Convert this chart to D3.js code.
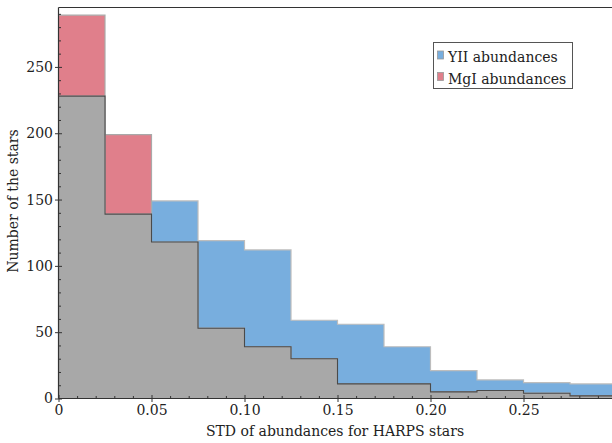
<!DOCTYPE html>
<html><head><meta charset="utf-8">
<script src="https://cdn.jsdelivr.net/npm/d3@7"></script>
<style>
body{margin:0;background:#fff}
svg{display:block}
text{font-family:"DejaVu Serif",serif;fill:#222}
</style>
</head><body><svg id="c" width="612" height="443"></svg>
<script>
const binEdges = [0,0.025,0.05,0.075,0.10,0.125,0.15,0.175,0.20,0.225,0.25,0.275,0.30];
const yiiCounts = [228,139,149,119,112,59,56,39,21,14,12,11];
const mgiCounts = [289,199,118,53,39,30,11,11,5,6,4,2];
const xTicks = [0,0.05,0.10,0.15,0.20,0.25];
const xTickLabels = ["0","0.05","0.10","0.15","0.20","0.25"];
const xMinor = [0.01,0.02,0.03,0.04,0.06,0.07,0.08,0.09,0.11,0.12,0.13,0.14,0.16,0.17,0.18,0.19,0.21,0.22,0.23,0.24,0.26,0.27,0.28,0.29];
const yTicks = [0,50,100,150,200,250];
const yMinor = [10,20,30,40,60,70,80,90,110,120,130,140,160,170,180,190,210,220,230,240,260,270,280,290];
const seriesNames = ["YII abundances","MgI abundances"];
const xLabel = "STD of abundances for HARPS stars";
const yLabel = "Number of the stars";

const W=612,H=443;
const L=58.5,T=7.5,B=398.5,R=616.5;
const svg=d3.select("#c");
const x=d3.scaleLinear().domain([0,0.3]).range([L,R]);
const y=d3.scaleLinear().domain([0,294.8]).range([B,T]);

const blue="#78aede", red="#e07f8b", gray="#a8a8a8";
const overlap = yiiCounts.map((v,i)=>Math.min(v,mgiCounts[i]));

function pts(c){
  const p=[[binEdges[0],0]];
  c.forEach((v,i)=>p.push([binEdges[i],v]));
  p.push([binEdges[binEdges.length-1],c[c.length-1]]);
  p.push([binEdges[binEdges.length-1],0]);
  return p;
}
const area=d3.area().x(d=>x(d[0])).y0(y(0)).y1(d=>y(d[1])).curve(d3.curveStepAfter);
const line=d3.line().x(d=>x(d[0])).y(d=>y(d[1])).curve(d3.curveStepAfter);

svg.append("defs").append("clipPath").attr("id","clip").append("rect")
  .attr("x",L).attr("y",T).attr("width",W-L).attr("height",B-T);
const g=svg.append("g").attr("clip-path","url(#clip)");

g.append("path").attr("d",area(pts(yiiCounts))).attr("fill",blue);
g.append("path").attr("d",area(pts(mgiCounts))).attr("fill",red);
g.append("path").attr("d",area(pts(overlap))).attr("fill",gray);
g.append("path").attr("d",line(pts(yiiCounts))).attr("fill","none").attr("stroke","#bdbdbd").attr("stroke-width",1.2);
g.append("path").attr("d",line(pts(mgiCounts))).attr("fill","none").attr("stroke","#a9a9a9").attr("stroke-width",1.2);
g.append("path").attr("d",line(pts(overlap))).attr("fill","none").attr("stroke","#4a4a4a").attr("stroke-width",1.1);

// spines
svg.append("line").attr("x1",L).attr("x2",W).attr("y1",T).attr("y2",T).attr("stroke","#333").attr("stroke-width",1.2);
// axes
function styleAxis(sel){sel.select(".domain").remove();sel.selectAll("line").attr("stroke","#333");sel.selectAll("text").attr("font-size",14).attr("font-family","DejaVu Serif").attr("fill","#222");}
svg.append("g").attr("transform",`translate(0,${B})`)
  .call(d3.axisBottom(x).tickValues(xTicks).tickFormat((d,i)=>xTickLabels[i]).tickSize(3.5).tickPadding(3))
  .call(styleAxis);
svg.append("g").attr("transform",`translate(0,${B})`)
  .call(d3.axisBottom(x).tickValues(xTicks).tickFormat("").tickSize(-3.5)).call(styleAxis);
svg.append("g").attr("transform",`translate(0,${B})`)
  .call(d3.axisBottom(x).tickValues(xMinor).tickFormat("").tickSize(-2.5)).call(styleAxis);
svg.append("g").attr("transform",`translate(${L},0)`)
  .call(d3.axisLeft(y).tickValues(yTicks).tickFormat(d3.format("d")).tickSize(3.5).tickPadding(2))
  .call(styleAxis);
svg.append("g").attr("transform",`translate(${L},0)`)
  .call(d3.axisLeft(y).tickValues(yTicks).tickFormat("").tickSize(-3.5)).call(styleAxis);
svg.append("g").attr("transform",`translate(${L},0)`)
  .call(d3.axisLeft(y).tickValues(yMinor).tickFormat("").tickSize(-2.5)).call(styleAxis);
svg.append("line").attr("x1",L).attr("x2",W).attr("y1",B).attr("y2",B).attr("stroke","#333").attr("stroke-width",1.2);
svg.append("line").attr("x1",L).attr("x2",L).attr("y1",T).attr("y2",B).attr("stroke","#333").attr("stroke-width",1.2);

// labels
svg.append("text").attr("x",335).attr("y",436).attr("text-anchor","middle").attr("font-size",14).text(xLabel);
svg.append("text").attr("transform",`translate(18,201) rotate(-90)`).attr("text-anchor","middle").attr("font-size",14).text(yLabel);

// legend
const lg=svg.append("g");
lg.append("rect").attr("x",433.5).attr("y",42.5).attr("width",139).attr("height",46).attr("fill","#fff").attr("stroke","#555").attr("stroke-width",1);
[blue,red].forEach((c,i)=>{
  lg.append("rect").attr("x",437.5).attr("y",51+i*21.5).attr("width",6).attr("height",8).attr("fill",c).attr("stroke","#999").attr("stroke-width",0.8);
  lg.append("text").attr("x",448).attr("y",62+i*21.5).attr("font-size",14).text(seriesNames[i]);
});
</script></body></html>
